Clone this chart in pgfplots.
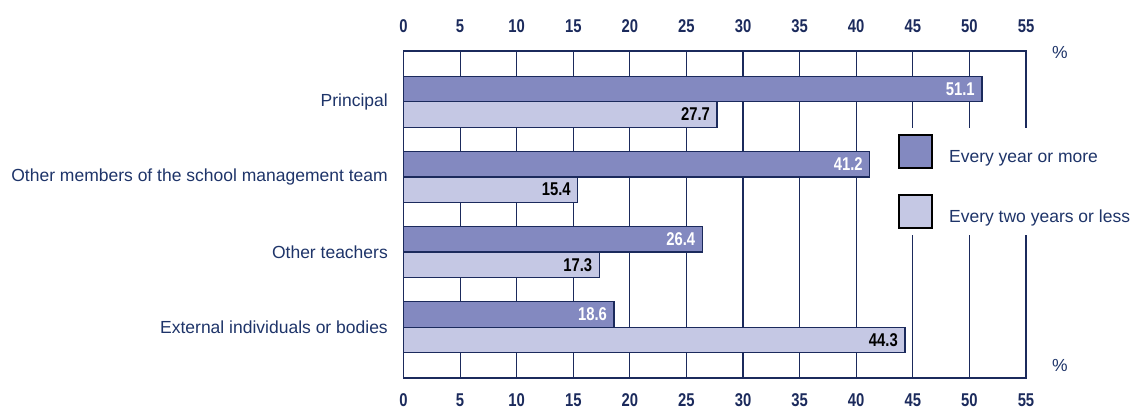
\documentclass[border=0pt]{standalone}
\usepackage{pgfplots}
\pgfplotsset{compat=1.18}
\usepackage{graphicx}
\usepackage{fontspec}
\setmainfont{Liberation Sans}
\newfontfamily\narrowfont[FakeStretch=0.8]{Liberation Sans}
\definecolor{navy}{RGB}{27,42,92}
\definecolor{txt}{RGB}{30,52,105}
\definecolor{darkbar}{RGB}{131,137,192}
\definecolor{lightbar}{RGB}{197,200,228}
\newcommand\catfont{\fontsize{17.5}{21}\selectfont}
\newcommand\numfont{\narrowfont\bfseries\fontsize{18.5}{20}\selectfont}
\begin{document}
\begin{tikzpicture}
\useasboundingbox (0,0) rectangle (1130pt,409pt);
% axis only for the upper tick labels
\begin{axis}[at={(403.5pt,31pt)}, anchor=south west, scale only axis,
  width=622.5pt, height=327pt,
  xmin=0, xmax=55, ymin=-0.675, ymax=3.675,
  xtick={0,5,...,55}, xticklabels={0,5,10,15,20,25,30,35,40,45,50,55},
  xticklabel pos=upper, ytick=\empty, axis line style={draw=none},
  major tick length=0pt,
  xticklabel style={font=\numfont, text=navy, inner sep=0pt, yshift=18pt}]
\addplot[draw=none] coordinates {(0,0)};
\end{axis}
% main axis
\begin{axis}[at={(403.5pt,31pt)}, anchor=south west, scale only axis,
  width=622.5pt, height=327pt,
  xmin=0, xmax=55, ymin=-0.675, ymax=3.675,
  xbar, bar width=25.5pt, clip=false,
  xtick={0,5,...,55}, xticklabels={0,5,10,15,20,25,30,35,40,45,50,55},
  xticklabel pos=lower,
  xticklabel style={font=\numfont, text=navy, inner sep=0pt, yshift=-15.5pt},
  ytick={0,1,2,3},
  yticklabels={External individuals or bodies, Other teachers, Other members of the school management team, Principal},
  yticklabel style={font=\catfont, text=txt, inner sep=0pt, xshift=-15.5pt},
  major tick length=0pt,
  xmajorgrids, grid style={navy, line width=1.1pt},
  axis line style={navy, line width=1.3pt},
  legend cell align=left,
  legend style={at={(0.785,0.7645)}, anchor=north west, draw=none, fill=white,
    inner sep=6pt, row sep=25pt, font=\catfont, text=txt, nodes={inner sep=0pt},
    /tikz/every odd column/.append style={column sep=16pt}},
  legend image code/.code={\draw[draw=black, line width=1.8pt] (0pt,-10.5pt) rectangle (33pt,22.5pt);},
  point meta=explicit symbolic]
\addplot[fill=darkbar, draw=navy, line width=1.3pt, bar shift=12.75pt,
  nodes near coords,
  every node near coord/.append style={font=\numfont, text=white, anchor=east, inner sep=0pt, xshift=-6.5pt}]
  coordinates {(51.1,3) [51.1] (41.2,2) [41.2] (26.4,1) [26.4] (18.6,0) [18.6]};
\addlegendentry{Every year or more}
\addplot[fill=lightbar, draw=navy, line width=1.3pt, bar shift=-12.75pt,
  nodes near coords,
  every node near coord/.append style={font=\numfont, text=black, anchor=east, inner sep=0pt, xshift=-6.5pt}]
  coordinates {(27.7,3) [27.7] (15.4,2) [15.4] (17.3,1) [17.3] (44.3,0) [44.3]};
\addlegendentry{Every two years or less}
\node[font=\catfont, text=txt] at (rel axis cs:1.0546,0.995) {\%};
\node[font=\catfont, text=txt] at (rel axis cs:1.0546,0.038) {\%};
\end{axis}
\end{tikzpicture}
\end{document}
